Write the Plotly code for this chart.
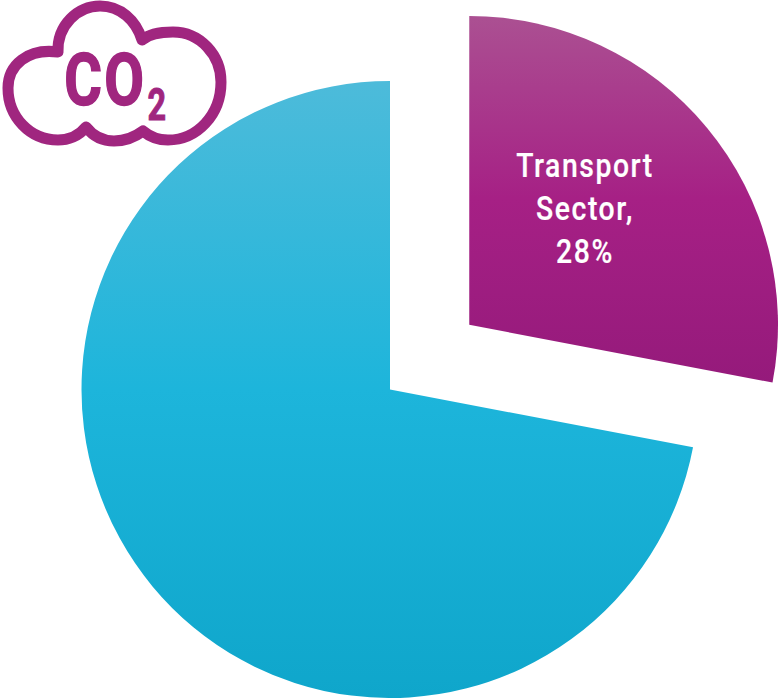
import plotly.graph_objects as go

# Share of CO2 emissions
labels = ["Transport<br>Sector", "Other Sectors"]
values = [28, 72]
icon_main = "CO"
icon_sub = "2"

W, H = 780, 698
PURPLE = "#A0267F"
TRANSPARENT = "rgba(0,0,0,0)"
TEXT_FONT = "Roboto"


def x_dom(left, right):
    return [left / W, right / W]


def y_dom(top, bottom):
    return [1 - bottom / H, 1 - top / H]


def pie(colors, domain_x, domain_y):
    return go.Pie(
        labels=labels,
        values=values,
        sort=False,
        direction="clockwise",
        rotation=0,
        domain=dict(x=domain_x, y=domain_y),
        marker=dict(colors=colors, line=dict(width=0)),
        textinfo="none",
        hoverinfo="label+percent",
        showlegend=False,
    )


fig = go.Figure()
# Main slice and the pulled-out slice, each on its own domain
fig.add_trace(pie([TRANSPARENT, "#1DB5DB"], x_dom(81, 699), y_dom(81, 698)))
fig.add_trace(pie([PURPLE, TRANSPARENT], x_dom(160.5, 778), y_dom(16, 633.5)))


def px(x, y):
    return f"{x / W:.5f},{1 - y / H:.5f}"


# Cloud outline of the CO2 icon, segments given in page pixels
cloud = [
    (58, 52), (57, 25), (78, 6), (100, 6), (120, 6), (136, 20), (142, 40),
    (150, 33), (162, 32), (173, 32), (200, 32), (221, 55), (221, 82),
    (221, 115), (197, 140), (168, 140), (158, 140), (150, 137), (143, 131),
    (135, 137), (125, 141), (114, 141), (103, 141), (93, 136), (86, 127),
    (79, 136), (68, 140), (58, 140), (30, 140), (8, 117), (8, 88),
    (8, 65), (28, 48), (58, 52),
]
path = "M" + px(*cloud[0])
for i in range(1, len(cloud), 3):
    path += " C" + " ".join(px(*p) for p in cloud[i:i + 3])
path += " Z"

fig.update_layout(
    width=W,
    height=H,
    margin=dict(l=0, r=0, t=0, b=0),
    paper_bgcolor="white",
    plot_bgcolor="white",
    shapes=[dict(type="path", xref="paper", yref="paper", path=path,
                 line=dict(color=PURPLE, width=11), fillcolor=TRANSPARENT)],
    annotations=[
        dict(text=f"{labels[0]},<br>{values[0]}%", x=585 / W, y=1 - 209 / H,
             xref="paper", yref="paper", showarrow=False,
             xanchor="center", yanchor="middle", align="center",
             font=dict(family=TEXT_FONT, size=33, color="white", weight=500)),
        dict(text=icon_main, x=106 / W, y=1 - 80 / H, xref="paper", yref="paper",
             showarrow=False, xanchor="center", yanchor="middle",
             font=dict(family=TEXT_FONT, size=72, color=PURPLE, weight=700)),
        dict(text=icon_sub, x=157 / W, y=1 - 104 / H, xref="paper", yref="paper",
             showarrow=False, xanchor="center", yanchor="middle",
             font=dict(family=TEXT_FONT, size=45, color=PURPLE, weight=700)),
    ],
)

# Vertical gradients for the slices, rounded cloud joins, condensed text
post_script = """
var gd = document.getElementById('{plot_id}');
var NS = 'http://www.w3.org/2000/svg';
var svg = gd.querySelector('svg.main-svg');
var defs = svg.querySelector('defs');
function grad(id, stops) {
  var g = document.createElementNS(NS, 'linearGradient');
  g.setAttribute('id', id);
  g.setAttribute('x1', '0'); g.setAttribute('y1', '0');
  g.setAttribute('x2', '0'); g.setAttribute('y2', '1');
  stops.forEach(function (s) {
    var st = document.createElementNS(NS, 'stop');
    st.setAttribute('offset', s[0]);
    st.setAttribute('stop-color', s[1]);
    g.appendChild(st);
  });
  defs.appendChild(g);
}
grad('sliceBlue', [[0, '#4DBBDA'], [0.5, '#1DB5DB'], [1, '#0FA6CB']]);
grad('slicePurple', [[0, '#AB5092'], [0.5, '#A62085'], [1, '#951A7B']]);
var traces = gd.querySelectorAll('g.trace');
traces[0].querySelectorAll('g.slice path.surface')[1].style.fill = 'url(#sliceBlue)';
traces[1].querySelectorAll('g.slice path.surface')[0].style.fill = 'url(#slicePurple)';
gd.querySelectorAll('.shapelayer path').forEach(function (p) {
  p.style.strokeLinejoin = 'round';
});
var squeeze = [0.86, 0.8, 0.72];
var spacing = ['1.8px', '3px', '0'];
var outline = [[ 'white', '0.2px' ], [ '#A0267F', '1.5px' ], [ '#A0267F', '1px' ]];
gd.querySelectorAll('.annotation-text').forEach(function (t, i) {
  t.style.letterSpacing = spacing[i];
  t.style.stroke = outline[i][0];
  t.style.strokeWidth = outline[i][1];
  t.style.transformBox = 'fill-box';
  t.style.transformOrigin = 'center';
  t.style.transform = 'scaleX(' + squeeze[i] + ')';
});
"""

fig.write_html("out.html", post_script=post_script, config=dict(displayModeBar=False))
